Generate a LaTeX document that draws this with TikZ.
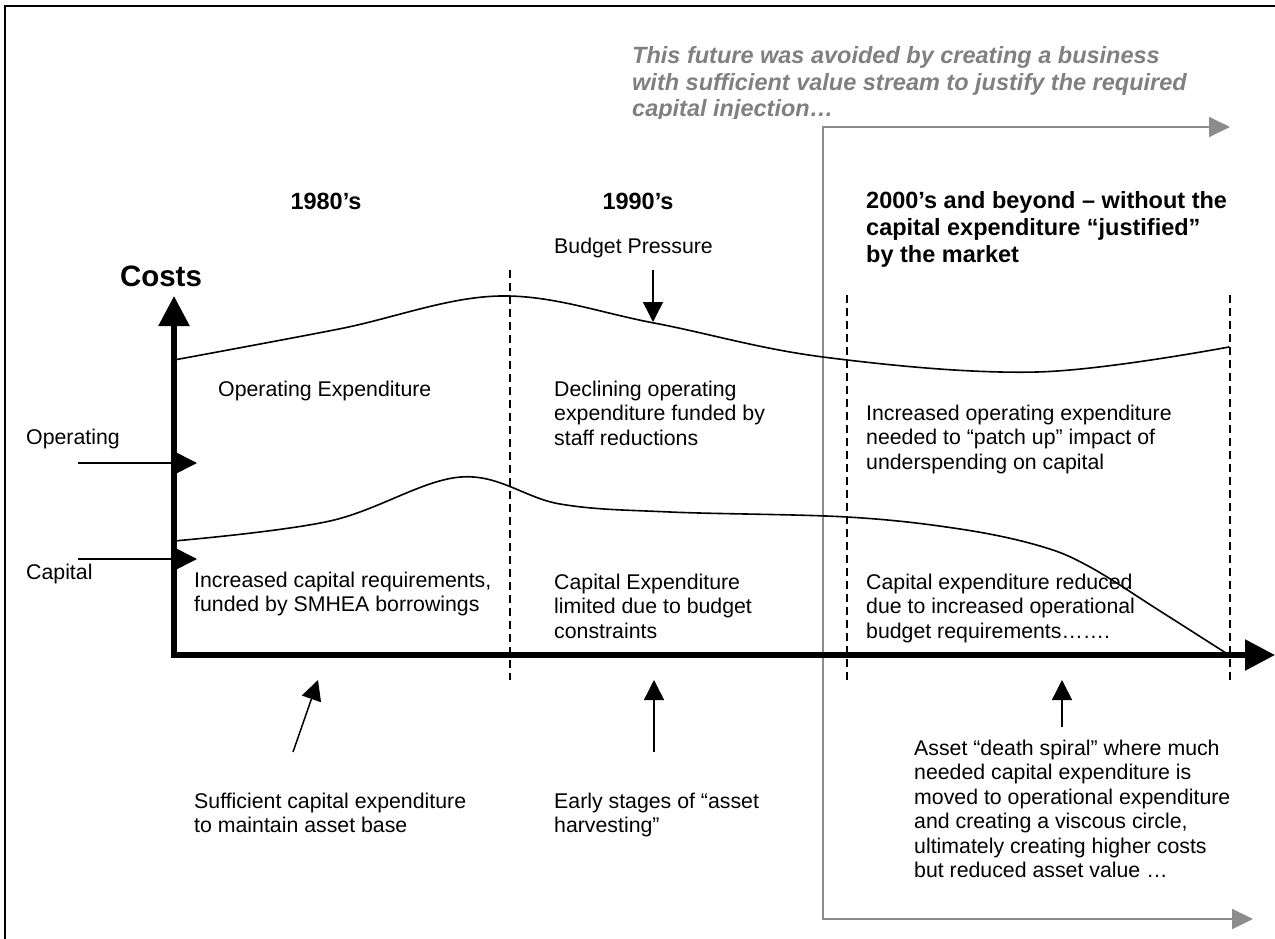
\documentclass[tikz,border=0pt]{standalone}
\usepackage{fontspec}
\setmainfont{Liberation Sans}
\usetikzlibrary{arrows.meta}
\newcommand\myBodyStrut{\rule{0pt}{17pt}}
\newcommand\myHeadStrut{\rule{0pt}{19pt}}
\begin{document}
\begin{tikzpicture}[x=1pt,y=-1pt,
  bodytext/.style={font=\fontsize{21.3}{24.5}\selectfont, inner sep=0pt, align=left, anchor=north west},
  headtext/.style={font=\bfseries\fontsize{23.5}{27}\selectfont, inner sep=0pt, align=left},
  notetext/.style={font=\bfseries\itshape\fontsize{23.5}{26.6}\selectfont, text=black!50, inner sep=0pt, align=left, anchor=north west},
  curve/.style={line width=1.6pt, line cap=round},
  divider/.style={dash pattern=on 8pt off 5pt, line width=1.3pt},
  axisline/.style={line width=5.5pt, line join=miter, {Triangle[width=30pt,length=30pt]}-{Triangle[width=30pt,length=30pt]}},
  pointer/.style={line width=1.5pt, -{Triangle[width=20pt,length=20pt]}},
  bracket/.style={draw=black!45, line width=2pt, {Triangle[width=20pt,length=21pt]}-{Triangle[width=20pt,length=21pt]}}
]
\useasboundingbox (0,0) rectangle (1275,939);
\begin{scope}
\clip (0,0) rectangle (1275,939);
% outer frame (runs off the right and bottom edges)
\draw[line width=2pt] (5,6) rectangle (1300,960);
\end{scope}

% grey bracket for the avoided future
\coordinate (gtop) at (1230,127);
\coordinate (gc1) at (823,127);
\coordinate (gc2) at (823,919);
\coordinate (gbot) at (1253,919);
\draw[bracket] (gtop) -- (gc1) -- (gc2) -- (gbot);

\begin{scope}
\clip (600,30) rectangle (1275,119);
\node[notetext] (note) at (632,44.4) {\myHeadStrut This future was avoided by creating a business\\with sufficient value stream to justify the required\\capital injection…};
\end{scope}

% divider lines
\coordinate (d1t) at (510,270); \coordinate (d1b) at (510,680);
\coordinate (d2t) at (847,295); \coordinate (d2b) at (847,680);
\coordinate (d3t) at (1230,295); \coordinate (d3b) at (1230,680);
\draw[divider] (d1t) -- (d1b);
\draw[divider] (d2t) -- (d2b);
\draw[divider] (d3t) -- (d3b);

% curves
\draw[curve] plot[smooth, tension=0.6] coordinates {(174,360) (339,329) (500,296) (654,323) (823,357) (1037,372) (1229,347)};
\draw[curve] plot[smooth, tension=0.6] coordinates {(174,541) (330,521) (461,477) (560,504) (670,512) (847,517) (960,529) (1040,546) (1090,567) (1160,611) (1229,655)};

% axes
\coordinate (ytip) at (174,296);
\coordinate (origin) at (174,655);
\coordinate (xtip) at (1275,655);
\draw[axisline] (ytip) -- (origin) -- (xtip);

% side arrows
\coordinate (opstart) at (78,463); \coordinate (opend) at (197,463);
\coordinate (capstart) at (78,559); \coordinate (capend) at (197,559);
\draw[pointer] (opstart) -- (opend);
\draw[pointer] (capstart) -- (capend);

% budget pressure arrow
\coordinate (bpt) at (653,270); \coordinate (bpe) at (653,322);
\draw[pointer] (bpt) -- (bpe);

% arrows under the axis
\coordinate (a1s) at (293,752); \coordinate (a1e) at (318,680);
\coordinate (a2s) at (654,752); \coordinate (a2e) at (654,680);
\coordinate (a3s) at (1062,727); \coordinate (a3e) at (1062,680);
\draw[pointer] (a1s) -- (a1e);
\draw[pointer] (a2s) -- (a2e);
\draw[pointer] (a3s) -- (a3e);

% headings
\node[headtext, anchor=center] (h80) at (326,201) {1980’s};
\node[headtext, anchor=center] (h90) at (638,201) {1990’s};
\node[headtext, anchor=north west] (h00) at (866,189.4) {\myHeadStrut 2000’s and beyond – without the\\capital expenditure “justified”\\by the market};
\node[font=\bfseries\fontsize{29.5}{33}\selectfont, inner sep=0pt] (costs) at (161,276) {Costs};

% labels
\node[bodytext] (budget) at (554,236) {\myBodyStrut Budget Pressure};
\node[bodytext] (oplab) at (26,427) {\myBodyStrut Operating};
\node[bodytext] (caplab) at (26,562) {\myBodyStrut Capital};

\node[bodytext] (t1) at (218,379) {\myBodyStrut Operating Expenditure};
\node[bodytext] (t2) at (554,379) {\myBodyStrut Declining operating\\expenditure funded by\\staff reductions};
\node[bodytext] (t3) at (866,403) {\myBodyStrut Increased operating expenditure\\needed to “patch up” impact of\\underspending on capital};
\node[bodytext] (t4) at (194,570) {\myBodyStrut Increased capital requirements,\\funded by SMHEA borrowings};
\node[bodytext] (t5) at (554,572) {\myBodyStrut Capital Expenditure\\limited due to budget\\constraints};
\node[bodytext] (t6) at (866,572) {\myBodyStrut Capital expenditure reduced\\due to increased operational\\budget requirements…….};
\node[bodytext] (t7) at (194,791) {\myBodyStrut Sufficient capital expenditure\\to maintain asset base};
\node[bodytext] (t8) at (554,791) {\myBodyStrut Early stages of “asset\\harvesting”};
\node[bodytext] (t9) at (914,738) {\myBodyStrut Asset “death spiral” where much\\needed capital expenditure is\\moved to operational expenditure\\and creating a viscous circle,\\ultimately creating higher costs\\but reduced asset value …};
\end{tikzpicture}
\end{document}
